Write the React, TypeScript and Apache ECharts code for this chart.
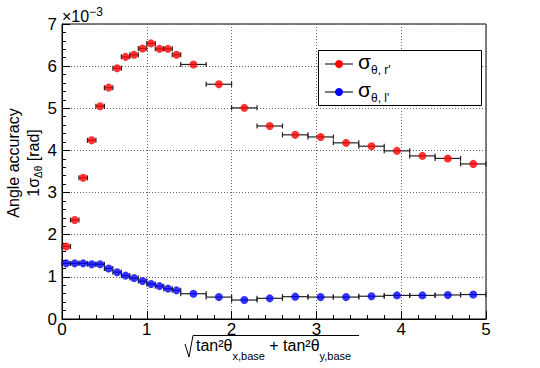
import React, { useEffect, useRef } from "react";
import * as echarts from "echarts";

// Bin edges of the x variable
const binEdges = [0, 0.1, 0.2, 0.3, 0.4, 0.5, 0.6, 0.7, 0.8, 0.9, 1.0, 1.1, 1.2, 1.3, 1.4,
  1.7, 2.0, 2.3, 2.6, 2.9, 3.2, 3.5, 3.8, 4.1, 4.4, 4.7, 5.0];

// sigma_{theta, r'} values (x 1e-3 rad)
const sigmaR = [1.72, 2.35, 3.35, 4.24, 5.05, 5.49, 5.95, 6.22, 6.27, 6.42, 6.54, 6.41, 6.41, 6.27,
  6.04, 5.57, 5.01, 4.58, 4.37, 4.32, 4.18, 4.10, 3.99, 3.87, 3.81, 3.68];

// sigma_{theta, l'} values (x 1e-3 rad)
const sigmaL = [1.32, 1.32, 1.32, 1.30, 1.30, 1.20, 1.11, 1.03, 0.97, 0.90, 0.83, 0.78, 0.72, 0.68,
  0.60, 0.52, 0.45, 0.49, 0.53, 0.52, 0.52, 0.54, 0.56, 0.56, 0.57, 0.58];

const xTicks = [0, 1, 2, 3, 4, 5];
const yTicks = [0, 1, 2, 3, 4, 5, 6, 7];

const FONT = "'Liberation Sans', Arial, Helvetica, sans-serif";

function buildData(vals: number[]) {
  return vals.map((v, i) => {
    const lo = binEdges[i];
    const hi = binEdges[i + 1];
    return [(lo + hi) / 2, v, lo, hi];
  });
}

export default function App() {
  const ref = useRef<HTMLDivElement>(null);
  useEffect(() => {
    if (!ref.current) return;
    const chart = echarts.init(ref.current, undefined, { renderer: "svg" });
    const dataR = buildData(sigmaR);
    const dataL = buildData(sigmaL);

    const errRender = (params: any, api: any) => {
      const y = api.value(1);
      const p1 = api.coord([api.value(2), y]);
      const p2 = api.coord([api.value(3), y]);
      const h = 2.5;
      const st = { stroke: "#222", lineWidth: 1.2 };
      return {
        type: "group",
        children: [
          { type: "line", shape: { x1: p1[0], y1: p1[1], x2: p2[0], y2: p2[1] }, style: st },
          { type: "line", shape: { x1: p1[0], y1: p1[1] - h, x2: p1[0], y2: p1[1] + h }, style: st },
          { type: "line", shape: { x1: p2[0], y1: p2[1] - h, x2: p2[0], y2: p2[1] + h }, style: st },
        ],
      };
    };

    const legendRich = {
      s: { fontSize: 21, fontFamily: FONT, lineHeight: 24, verticalAlign: "top", fill: "#000" },
      sub: {
        fontSize: 12, fontFamily: FONT, lineHeight: 12, verticalAlign: "top",
        padding: [13.5, 0, 0, 0], fill: "#000",
      },
    };

    const option: any = {
      animation: false,
      backgroundColor: "#fff",
      grid: {
        left: 62,
        top: 24,
        right: 54,
        bottom: 49,
        show: true,
        borderColor: "#000",
        borderWidth: 1,
        backgroundColor: "transparent",
      },
      xAxis: {
        type: "value",
        min: xTicks[0],
        max: xTicks[xTicks.length - 1],
        interval: 1,
        axisLine: { show: true, lineStyle: { color: "#000", width: 1 } },
        axisTick: { show: true, inside: true, length: 8, lineStyle: { color: "#000" } },
        minorTick: { show: true, splitNumber: 5, length: 4, lineStyle: { color: "#000" } },
        splitLine: { show: true, lineStyle: { color: "#666", type: [1, 2], width: 1 } },
        axisLabel: {
          color: "#000",
          fontSize: 17,
          lineHeight: 14,
          fontFamily: FONT,
          margin: 3,
          showMinLabel: true,
          showMaxLabel: true,
        },
      },
      yAxis: {
        type: "value",
        min: yTicks[0],
        max: yTicks[yTicks.length - 1],
        interval: 1,
        axisLine: { show: true, lineStyle: { color: "#000", width: 1 } },
        axisTick: { show: true, inside: true, length: 8, lineStyle: { color: "#000" } },
        minorTick: { show: true, splitNumber: 5, length: 4, lineStyle: { color: "#000" } },
        splitLine: { show: true, lineStyle: { color: "#666", type: [1, 2], width: 1 } },
        axisLabel: {
          color: "#000",
          fontSize: 17,
          fontFamily: FONT,
          margin: 5,
        },
      },
      series: [
        {
          type: "custom",
          name: "errR",
          renderItem: errRender,
          data: dataR,
          encode: { x: [0, 2, 3], y: 1 },
          z: 2,
        },
        {
          type: "custom",
          name: "errL",
          renderItem: errRender,
          data: dataL,
          encode: { x: [0, 2, 3], y: 1 },
          z: 2,
        },
        {
          type: "scatter",
          name: "sigmaR",
          data: dataR.map((d) => [d[0], d[1]]),
          symbol: "circle",
          symbolSize: 8,
          itemStyle: { color: "#ff0000" },
          z: 3,
        },
        {
          type: "scatter",
          name: "sigmaL",
          data: dataL.map((d) => [d[0], d[1]]),
          symbol: "circle",
          symbolSize: 8,
          itemStyle: { color: "#0000ff" },
          z: 3,
        },
      ],
      graphic: [
        // exponent label
        {
          type: "text",
          x: 62,
          y: 6.4,
          style: {
            text: "{m|×10}{sup|−3}",
            verticalAlign: "top",
            fill: "#000",
            rich: {
              m: { fontSize: 16, fontFamily: FONT, lineHeight: 18, verticalAlign: "top", padding: [2, 0, 0, 0], fill: "#000" },
              sup: { fontSize: 12, fontFamily: FONT, lineHeight: 12, verticalAlign: "top", fill: "#000" },
            },
          },
        },
        // legend box
        {
          type: "rect",
          shape: { x: 318.5, y: 50.5, width: 163, height: 55 },
          style: { fill: "#fff", stroke: "#000", lineWidth: 1 },
          z: 10,
        },
        {
          type: "line",
          shape: { x1: 325, y1: 64, x2: 353, y2: 64 },
          style: { stroke: "#222", lineWidth: 1.2 },
          z: 11,
        },
        {
          type: "circle",
          shape: { cx: 339, cy: 64, r: 4 },
          style: { fill: "#ff0000" },
          z: 12,
        },
        {
          type: "line",
          shape: { x1: 325, y1: 92, x2: 353, y2: 92 },
          style: { stroke: "#222", lineWidth: 1.2 },
          z: 11,
        },
        {
          type: "circle",
          shape: { cx: 339, cy: 92, r: 4 },
          style: { fill: "#0000ff" },
          z: 12,
        },
        {
          type: "text",
          x: 358,
          y: 50.6,
          z: 12,
          style: {
            text: "{s|σ}{sub|θ, r'}",
            verticalAlign: "top",
            fill: "#000",
            rich: legendRich,
          },
        },
        {
          type: "text",
          x: 358,
          y: 78.6,
          z: 12,
          style: {
            text: "{s|σ}{sub|θ, l'}",
            verticalAlign: "top",
            fill: "#000",
            rich: legendRich,
          },
        },
        // y axis title
        {
          type: "text",
          x: 13,
          y: 163,
          rotation: Math.PI / 2,
          style: {
            text: "Angle accuracy",
            font: `16px ${FONT}`,
            fill: "#000",
            align: "center",
            verticalAlign: "middle",
          },
        },
        {
          type: "text",
          x: 33,
          y: 163,
          rotation: Math.PI / 2,
          style: {
            text: "{m|1σ}{sub|Δθ}{m| [rad]}",
            fill: "#000",
            align: "center",
            verticalAlign: "middle",
            rich: {
              m: { fontSize: 16, fontFamily: FONT, lineHeight: 20, fill: "#000" },
              sub: { fontSize: 10, fontFamily: FONT, lineHeight: 10, verticalAlign: "bottom", fill: "#000" },
            },
          },
        },
        // x axis title: radical sign
        {
          type: "polyline",
          shape: { points: [[185, 344], [189, 357], [193, 335.5], [359, 335.5]] },
          style: { stroke: "#000", lineWidth: 1, fill: null },
        },
        {
          type: "text",
          x: 196,
          y: 337.5,
          style: {
            text: "{m|tan²θ}{sub|x,base}{m| + tan²θ}{sub|y,base}",
            fill: "#000",
            verticalAlign: "top",
            rich: {
              m: { fontSize: 16, fontFamily: FONT, lineHeight: 17, verticalAlign: "top", fill: "#000" },
              sub: {
                fontSize: 11, fontFamily: FONT, lineHeight: 11, verticalAlign: "top",
                padding: [12.5, 0, 0, 0], fill: "#000",
              },
            },
          },
        },
      ],
    };
    chart.setOption(option);
    return () => chart.dispose();
  }, []);
  return <div ref={ref} style={{ width: 540, height: 368, position: "absolute", left: 0, top: 0 }} />;
}
